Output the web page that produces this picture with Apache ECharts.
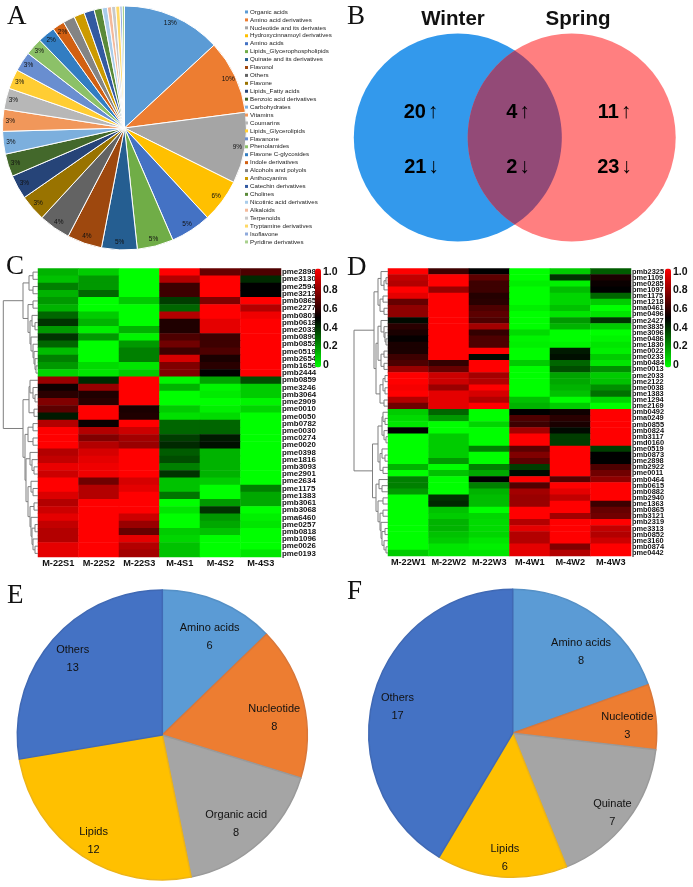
<!DOCTYPE html>
<html>
<head>
<meta charset="utf-8">
<style>
  html, body { margin: 0; padding: 0; background: #fff; }
  #main { width: 693px; height: 887px; }
</style>
<script src="https://cdn.jsdelivr.net/npm/echarts@6/dist/echarts.min.js"></script>
</head>
<body>
<div id="main"></div>
<script>
// panel A
const pieANames = ['Organic acids','Amino acid derivatives','Nucleotide and its derivates','Hydroxycinnamoyl derivatives','Amino acids','Lipids_Glycerophospholipids','Quinate and its derivatives','Flavonol','Others','Flavone','Lipids_Fatty acids','Benzoic acid derivatives','Carbohydrates','Vitamins','Coumarins','Lipids_Glycerolipids','Flavanone','Phenolamides','Flavone C-glycosides','Indole derivatives','Alcohols and polyols','Anthocyanins','Catechin derivatives','Cholines','Nicotinic acid derivatives','Alkaloids','Terpenoids','Tryptamine derivatives','Isoflavone','Pyridine derivatives'];
const pieAValues = [13.1,9.8,9.4,5.75,5.4,4.8,4.7,4.6,4.2,3.5,3.2,3,3,2.9,2.8,2.6,2.6,2.3,2.3,1.6,1.55,1.4,1.35,1.05,0.7,0.55,0.55,0.55,0.3,0.3];
const pieALabels = ['13%','10%','9%','6%','5%','5%','5%','4%','4%','3%','3%','3%','3%','3%','3%','3%','3%','3%','2%','2%'];
const pieAColors = ['#5B9BD5','#ED7D31','#A5A5A5','#FFC000','#4472C4','#70AD47','#255E91','#9E480E','#636363','#997300','#264478','#43682B','#7CAFDD','#F1975A','#B7B7B7','#FFCD33','#698ED0','#8CC168','#327DC2','#D26012','#848484','#CC9A00','#335AA1','#5A8A39','#A9CCEA','#F4B99A','#C9C9C9','#FFD966','#8FAADC','#A9D18E'];

// panel B
const vennNames = ['Winter','Spring'];
const vennCounts = [['20','↑'],['21','↓'],['4','↑'],['2','↓'],['11','↑'],['23','↓']];

// panel C
const heatCCols = ['M-22S1','M-22S2','M-22S3','M-4S1','M-4S2','M-4S3'];
const heatCRows = ['pme2898','pme3130','pme2594','pme3212','pmb0865','pme2277','pmb0801','pmb0618','pme2033','pmb0890','pmb0852','pme0519','pmb2654','pmb1656','pmb2444','pmb0859','pme3246','pmb3064','pme2909','pme0010','pme0050','pmb0782','pme0030','pmc0274','pme0020','pme0398','pme1816','pmb3093','pme2901','pme2634','pme1175','pme1383','pmb3061','pmb3068','pma6460','pme0257','pmb0818','pmb1096','pme0026','pme0193'];
const heatCValues = [
  [.15,.1,0,1,.7,.65],[.12,.2,0,.85,1,.42],[.25,.2,0,.62,1,.5],[.15,.3,0,.62,1,.5],
  [.2,0,.1,.38,.75,1],[.15,0,0,.3,1,.85],[.3,.1,0,.85,1,.97],[.4,.15,0,.56,.95,1],
  [.2,.03,.15,.56,.95,1],[.4,.2,.02,.65,.62,1],[.3,0,.2,.72,.62,1],[.13,0,.25,.62,.65,1],
  [.25,0,.25,.92,.55,1],[.2,.07,.05,.75,.58,1],[.08,.05,.1,.75,.5,1],[.8,.42,1,.02,.18,.35],
  [.53,.8,1,.15,.02,.1],[.58,.56,1,0,.04,.1],[.75,.58,1,0,0,.02],[.68,1,.55,.1,.03,.08],
  [.45,1,.56,.06,.07,0],[.85,.52,1,.3,.3,0],[1,.85,.9,.3,.3,0],[1,.75,.82,.38,.45,0],
  [1,.85,.8,.42,.47,0],[.85,.92,1,.32,.15,0],[.88,.95,1,.35,.15,0],[.96,.97,1,.25,.15,0],
  [.9,.97,1,.4,.15,0],[1,.72,.92,.12,.1,0],[1,.85,.95,.12,0,.25],[.93,.85,1,.27,0,.17],
  [.85,1,1,0,.2,.17],[.9,1,1,.05,.4,0],[.95,1,.9,0,.2,.03],[.88,1,.8,0,.17,.05],
  [.85,1,.7,.1,.12,0],[.85,1,.95,.08,0,0],[.95,1,.85,.12,0,0],[.95,1,.82,.12,0,.05]
];
// [height, child, child], a bare number is a row
const treeCUpper = [15,[9,[5,0,1],[5,2,3]],[10,[5,4,5],[8,[6,6,[3,7,8]],[7,9,[5,10,[4,11,[3,12,[2,13,14]]]]]]]];
const treeCLower = [15,[9,[8,15,[5,16,[3,17,18]]],[4,19,20]],[13,[10,[5,21,22],[5,23,24]],[12,[8,25,[6,26,[4,27,28]]],[10,[7,29,[5,30,31]],[8,[4,32,33],[7,34,[6,[3,35,36],[5,37,[3,38,39]]]]]]]]];
const treeC = [34.7,treeCUpper,treeCLower];

// panel D
const heatDCols = ['M-22W1','M-22W2','M-22W3','M-4W1','M-4W2','M-4W3'];
const heatDRows = ['pmb2325','pme1109','pme0285','pme1097','pme1175','pme1218','pma0461','pme0496','pme2427','pme3835','pme3096','pme0486','pme1830','pme0022','pme0233','pmb0484','pme0013','pme2033','pme2122','pme0038','pme1383','pme1294','pme2169','pmb0492','pma0249','pmb0855','pmb0824','pmb3117','pmd0160','pme0519','pmb0873','pme2898','pmb2922','pme0011','pmb0464','pmb0615','pmb0882','pmb2940','pme1363','pmb0865','pmb3121','pmb2319','pme3313','pmb0852','pme3160','pmb0874','pme0442'];
const heatDValues = [
  [1,.62,.5,0,.1,.32],[.88,1,.68,0,.4,.55],[.85,1,.62,.03,.03,.52],[1,.8,.62,0,.13,.5],
  [.95,1,.57,0,.08,.3],[.7,1,.58,0,.08,.1],[.78,1,.65,.03,.12,0],[.78,1,.68,0,.05,.05],
  [.48,1,.65,0,.2,.4],[.58,1,.82,0,.15,.1],[.55,1,.6,.07,0,0],[.51,1,.65,.02,0,.02],
  [.55,1,.65,.03,.02,.05],[.55,1,1,0,.45,.03],[.62,1,.48,0,.47,.1],[.65,.6,1,.1,.3,.05],
  [.8,.7,1,0,.35,.22],[1,.9,.82,0,.18,.1],[1,.9,.85,0,.17,.12],[.98,.8,1,0,.15,.22],
  [1,.95,.92,0,.12,.28],[.85,.95,.85,.12,0,.08],[.72,.95,1,.15,.1,0],[.1,.3,0,.5,.53,1],
  [.07,.2,0,.65,.58,1],[.05,0,.08,.62,.55,1],[.5,0,0,.82,.48,1],[0,.1,0,1,.38,1],
  [0,.1,0,1,.38,1],[0,.1,.25,.68,1,.38],[0,.1,0,.75,1,.5],[0,.2,0,.68,1,.5],
  [.15,0,.25,.38,1,.65],[0,.12,.17,.48,1,.72],[.25,0,.5,1,.67,.78],[.25,0,.25,.66,1,1],
  [.2,0,.15,.82,.95,1],[0,.4,.13,.8,.88,1],[0,.42,.13,.8,1,.62],[0,.12,0,1,1,.7],
  [0,.1,.08,1,.82,.72],[0,.15,.07,.85,1,1],[0,.15,.07,.95,1,.88],[0,.12,.08,.85,1,.85],
  [0,.1,.05,.85,1,.9],[0,.05,.03,.95,.75,1],[.1,.05,.05,.95,.85,1]
];
const treeDUpper = [14,[10,[7,0,[4,[2,1,2],3]],[8,[5,4,5],[4,6,7]]],[12,[10,[7,8,[4,9,[3,10,[2,11,12]]]],[7,[4,13,14],[4,15,16]]],[8,[5,[3,17,18],[3,19,20]],[4,21,22]]]];
const treeDLower = [15.5,[10,[6,[5,23,[3,24,25]],[4,26,[2,27,28]]],[8,[6,29,[3,30,31]],[5,32,33]]],[12,[9,34,[6,35,36]],[10,[5,37,38],[8,[5,39,40],[7,41,[6,[3,42,43],[4,44,[2,45,46]]]]]]]];
const treeD = [34,treeDUpper,treeDLower];

const scaleLabels = ['0','0.2','0.4','0.6','0.8','1.0'];

// panels E, F
const pieENames = ['Amino acids','Nucleotide','Organic acid','Lipids','Others'];
const pieEValues = [6,8,8,12,13];
const pieFNames = ['Amino acids','Nucleotide','Quinate','Lipids','Others'];
const pieFValues = [8,3,7,6,17];
const pieColors = ['#5B9BD5','#ED7D31','#A5A5A5','#FFC000','#4472C4'];
const pieBorders = ['#5590C6','#D9773A','#9A9A9A','#EDB417','#4069B4'];

const FONT = '"Liberation Sans", Arial, sans-serif';
const labelNudgeE = [[2,9],[-1,10],[-4,3],[-3,10],[-1,-1]];
const labelNudgeF = [[2,13],[0,6],[8,9.5],[1,10],[-4,4]];

function treeSegments(tree) {
  const segs = [];
  const walk = (node) => {
    if (typeof node === 'number') return {y: node + 0.5, h: 0};
    const a = walk(node[1]);
    const b = walk(node[2]);
    segs.push([a.h, a.y, node[0], a.y], [b.h, b.y, node[0], b.y], [node[0], a.y, node[0], b.y]);
    return {y: (a.y + b.y) / 2, h: node[0]};
  };
  walk(tree);
  return segs;
}

function heatData(values) {
  const out = [];
  values.forEach((row, r) => row.forEach((v, c) => out.push([c, r, v])));
  return out;
}

const hidden = {show: false};

// grids: 0 heat C, 1 heat D, 2 tree C, 3 tree D, 4 scale C, 5 scale D, 6 venn
const grid = [
  {left: 38, top: 268.5, width: 243, height: 288.5},
  {left: 388, top: 268.5, width: 243, height: 287.5},
  {left: 3.3, top: 268.5, width: 34.7, height: 288.5},
  {left: 354, top: 268.5, width: 34, height: 287.5},
  {left: 315, top: 272, width: 6, height: 93},
  {left: 665, top: 272, width: 6, height: 93},
  {left: 0, top: 0, width: 693, height: 887}
];

function heatX(cols, gridIndex) {
  return {type: 'category', gridIndex, data: cols, axisTick: hidden, axisLine: hidden,
    axisLabel: {interval: 0, margin: 2, fontFamily: FONT, fontWeight: 'bold', fontSize: 9.2, color: '#111'}};
}
function heatY(rows, gridIndex, size) {
  return {type: 'category', gridIndex, data: rows, inverse: true, position: 'right', axisTick: hidden, axisLine: hidden,
    axisLabel: {interval: 0, margin: 1, fontFamily: FONT, fontWeight: 'bold', fontSize: size, color: '#111'}};
}
function treeX(max, gridIndex) {
  return {type: 'value', gridIndex, min: 0, max, inverse: true, show: false};
}
function treeY(max, gridIndex) {
  return {type: 'value', gridIndex, min: 0, max, inverse: true, show: false};
}
function scaleX(gridIndex) {
  return {type: 'value', gridIndex, min: 0, max: 1, show: false};
}
function scaleY(gridIndex) {
  return {type: 'category', gridIndex, data: scaleLabels, position: 'right', boundaryGap: false,
    axisTick: hidden, axisLine: hidden,
    axisLabel: {interval: 0, margin: 2, fontFamily: FONT, fontWeight: 'bold', fontSize: 10.5, color: '#111'}};
}

const xAxis = [
  heatX(heatCCols, 0), heatX(heatDCols, 1), treeX(34.7, 2), treeX(34, 3), scaleX(4), scaleX(5),
  {type: 'value', gridIndex: 6, min: 0, max: 693, show: false}
];
const yAxis = [
  heatY(heatCRows, 0, 7.9), heatY(heatDRows, 1, 7.4), treeY(40, 2), treeY(47, 3), scaleY(4), scaleY(5),
  {type: 'value', gridIndex: 6, min: 0, max: 887, inverse: true, show: false}
];

function renderTree(params, api) {
  const p1 = api.coord([api.value(0), api.value(1)]);
  const p2 = api.coord([api.value(2), api.value(3)]);
  return {type: 'line', shape: {x1: p1[0], y1: p1[1], x2: p2[0], y2: p2[1]}, style: {stroke: '#7f7f7f', lineWidth: 1}};
}

function treeSeries(tree, idx) {
  return {type: 'custom', xAxisIndex: idx, yAxisIndex: idx, silent: true, clip: false,
    renderItem: renderTree, encode: {x: [0, 2], y: [1, 3]}, data: treeSegments(tree)};
}

function heatSeries(values, idx) {
  return {type: 'heatmap', xAxisIndex: idx, yAxisIndex: idx, silent: true, progressive: 0, data: heatData(values)};
}

// venn circles in page pixels [cx, cy, r]
const vennCircles = [[457.8, 137.5, 104], [571.7, 137.5, 104]];
const vennCirclePaint = ['#3399EC', '#FF7F80'];
const vennTextPos = [[421,112],[421.5,167],[518,112],[518,167],[614.5,112],[614.5,167]];

function renderVenn(params, api) {
  const i = params.dataIndex;
  const c = api.coord([api.value(0), api.value(1)]);
  const r = api.size([api.value(2), 0])[0];
  return {type: 'circle', shape: {cx: c[0], cy: c[1], r}, style: {fill: vennCirclePaint[i]}};
}

// the overlap: right side follows the left circle, left side follows the right circle
function renderLens(params, api) {
  const c1 = api.coord([vennCircles[0][0], vennCircles[0][1]]);
  const c2 = api.coord([vennCircles[1][0], vennCircles[1][1]]);
  const r = api.size([vennCircles[0][2], 0])[0];
  const half = Math.acos((c2[0] - c1[0]) / 2 / r);
  const points = [];
  for (let k = 0; k <= 60; k++) {
    const a = -half + 2 * half * k / 60;
    points.push([c1[0] + r * Math.cos(a), c1[1] + r * Math.sin(a)]);
  }
  for (let k = 0; k <= 60; k++) {
    const a = Math.PI - half + 2 * half * k / 60;
    points.push([c2[0] + r * Math.cos(a), c2[1] + r * Math.sin(a)]);
  }
  return {type: 'polygon', shape: {points}, style: {fill: '#934A77'}};
}

function renderVennText(params, api) {
  const i = params.dataIndex;
  const c = api.coord([vennTextPos[i][0], vennTextPos[i][1]]);
  return {type: 'text', style: {
    x: c[0], y: c[1], align: 'center', verticalAlign: 'middle',
    text: `{n|${vennCounts[i][0]}}{a|${vennCounts[i][1]}}`,
    rich: {
      n: {fontFamily: FONT, fontWeight: 'bold', fontSize: 20, fill: '#000', color: '#000'},
      a: {fontFamily: FONT, fontSize: 21, fill: '#000', color: '#000', padding: [0, 0, 0, 2]}
    }
  }};
}

function piePair(names, values, center, radius, nudge) {
  const colored = {
    type: 'pie', center, radius, startAngle: 90, silent: true, label: hidden, labelLine: hidden,
    data: names.map((name, i) => ({name, value: values[i],
      itemStyle: {color: pieColors[i], borderColor: pieBorders[i], borderWidth: 1.5}}))
  };
  const labels = {
    type: 'pie', center, radius: [radius * 0.56, radius], startAngle: 90, silent: true,
    itemStyle: {color: 'transparent'}, labelLine: hidden, avoidLabelOverlap: false,
    label: {position: 'inside', formatter: '{b}\n{c}', fontFamily: FONT, fontSize: 11, lineHeight: 18, color: '#111'},
    labelLayout: (p) => ({dx: nudge[p.dataIndex][0], dy: nudge[p.dataIndex][1]}),
    data: names.map((name, i) => ({name, value: values[i]}))
  };
  return [colored, labels];
}

const series = [
  {type: 'pie', center: [124.5, 128], radius: 122, startAngle: 90, silent: true, label: hidden, labelLine: hidden,
    itemStyle: {borderColor: '#fff', borderWidth: 1},
    data: pieANames.map((name, i) => ({name, value: pieAValues[i], itemStyle: {color: pieAColors[i]}}))},
  {type: 'pie', center: [124.5, 128], radius: [101, 122], startAngle: 90, silent: true, labelLine: hidden, avoidLabelOverlap: false,
    itemStyle: {color: 'transparent'},
    label: {position: 'inside', fontFamily: FONT, fontSize: 6.5, color: '#111',
      formatter: (p) => pieALabels[p.dataIndex] || ''},
    data: pieANames.map((name, i) => ({name, value: pieAValues[i]}))},
  {type: 'custom', xAxisIndex: 6, yAxisIndex: 6, silent: true, clip: false, renderItem: renderVenn, encode: {x: 0, y: 1}, data: vennCircles},
  {type: 'custom', xAxisIndex: 6, yAxisIndex: 6, silent: true, clip: false, renderItem: renderLens, encode: {x: 0, y: 1}, data: [vennCircles[0]]},
  {type: 'custom', xAxisIndex: 6, yAxisIndex: 6, silent: true, clip: false, renderItem: renderVennText, encode: {x: 0, y: 1}, data: vennTextPos},
  heatSeries(heatCValues, 0),
  heatSeries(heatDValues, 1),
  treeSeries(treeC, 2),
  treeSeries(treeD, 3)
].concat(
  piePair(pieENames, pieEValues, [162.3, 735], 145, labelNudgeE),
  piePair(pieFNames, pieFValues, [512.7, 733.3], 144, labelNudgeF)
);

function letter(text, left, top) {
  return {text, left, top, padding: 0, textStyle: {fontFamily: '"Liberation Serif", serif', fontWeight: 'normal', fontSize: 27, color: '#111'}};
}
function vennTitle(text, left) {
  return {text, left, top: 9, padding: 0, textAlign: 'center', textStyle: {fontFamily: FONT, fontWeight: 'bold', fontSize: 20.5, color: '#111'}};
}

function colorBar(left, seriesIndex) {
  return {type: 'continuous', min: 0, max: 1, seriesIndex, left, top: 268.5, itemWidth: 6, itemHeight: 99,
    padding: 0, showLabel: false, calculable: false, text: ['', ''], hoverLink: false,
    inRange: {color: ['#00ff00', '#000000', '#ff0000']}};
}

const option = {
  animation: false,
  backgroundColor: '#fff',
  title: [
    letter('A', 7, 3), letter('B', 347, 3), letter('C', 6, 253), letter('D', 347, 254), letter('E', 7, 582), letter('F', 347, 578),
    vennTitle(vennNames[0], 453), vennTitle(vennNames[1], 578)
  ],
  legend: {
    data: pieANames, orient: 'vertical', left: 245, top: 8, padding: 0, selectedMode: false,
    icon: 'rect', itemWidth: 3, itemHeight: 3, itemGap: 0, align: 'left',
    itemStyle: {borderWidth: 0},
    textStyle: {fontFamily: FONT, fontSize: 6.2, lineHeight: 7.93, color: '#222', padding: [0, 0, 0, -3]}
  },
  visualMap: [colorBar(315, 5), colorBar(665, 6)],
  grid, xAxis, yAxis, series
};

const chart = echarts.init(document.getElementById('main'), null, {renderer: 'canvas'});
chart.setOption(option);
</script>
</body>
</html>
